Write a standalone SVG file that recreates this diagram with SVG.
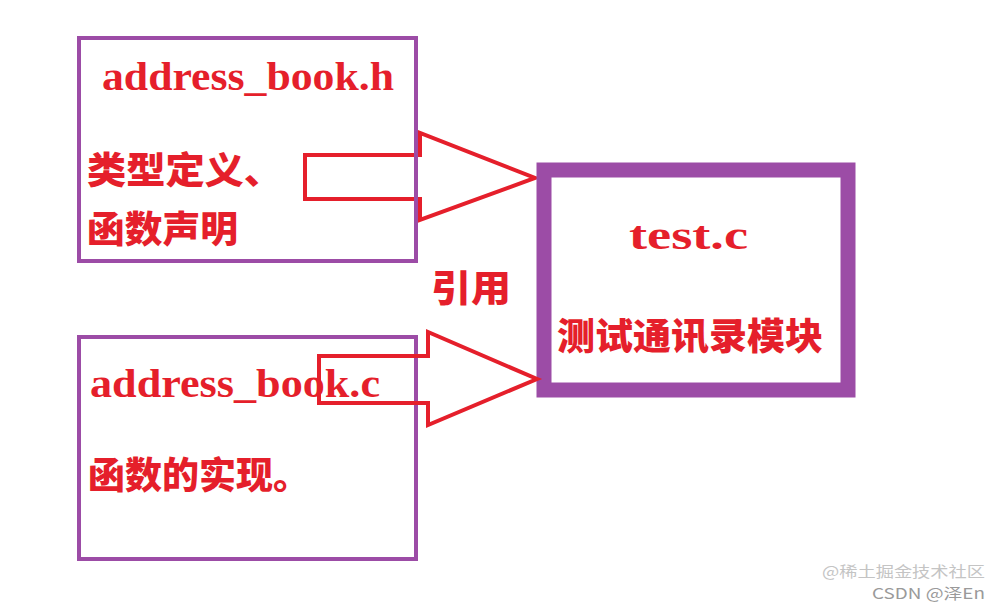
<svg xmlns="http://www.w3.org/2000/svg" width="1001" height="606" viewBox="0 0 1001 606">
<style>
.box{fill:none;stroke:#9c4ca6;stroke-width:4}
.big{fill:none;stroke:#9c4ca6;stroke-width:15}
.arrow{fill:none;stroke:#e51f2b;stroke-width:4;stroke-linejoin:miter}
.en{font-family:"Liberation Serif","DejaVu Serif",serif;font-weight:bold;fill:#e51f2b;font-size:39px}
.cn{font-family:"Noto Sans CJK SC","Noto Sans",sans-serif;font-weight:900;fill:#e51f2b;font-size:37px}
.wm{font-family:"Noto Sans CJK SC","Liberation Sans",sans-serif;font-size:15px}
</style>
<rect width="1001" height="606" fill="#ffffff"/>
<g id="connectors">
<polygon class="arrow" points="305,155 420,155 420,133 535,178 420,220 420,199 305,199"/>
</g>
<g id="node-header">
<rect class="box" x="79" y="38" width="337" height="223"/>
<text class="en" x="102" y="90" textLength="292" lengthAdjust="spacingAndGlyphs">address_book.h</text>
<text class="cn" x="87" y="184" textLength="196" lengthAdjust="spacingAndGlyphs">类型定义、</text>
<text class="cn" x="87" y="243" textLength="151" lengthAdjust="spacingAndGlyphs">函数声明</text>
</g>
<g id="node-source">
<rect class="box" x="79" y="337" width="337" height="222"/>
<text class="en" x="90" y="397" textLength="290" lengthAdjust="spacingAndGlyphs">address_book.c</text>
<text class="cn" x="88" y="489" textLength="222" lengthAdjust="spacingAndGlyphs">函数的实现。</text>
</g>
<g id="node-test">
<rect class="big" x="544" y="170" width="304" height="220"/>
<text class="en" x="629" y="249" textLength="119" lengthAdjust="spacingAndGlyphs">test.c</text>
<text class="cn" x="557" y="350" font-size="38" textLength="266" lengthAdjust="spacingAndGlyphs">测试通讯录模块</text>
</g>
<g id="connectors-2">
<polygon class="arrow" points="319,356 428,356 428,332 537,379 428,425 428,403 319,403"/>
</g>
<g id="label">
<text class="cn" x="431" y="302" font-size="40" textLength="80" lengthAdjust="spacingAndGlyphs">引用</text>
</g>
<g id="watermark">
<text class="wm" x="822" y="577" fill="#c4c4c4" textLength="163" lengthAdjust="spacingAndGlyphs">@稀土掘金技术社区</text>
<text class="wm" x="872" y="599" fill="#9a9a9a" textLength="113" lengthAdjust="spacingAndGlyphs">CSDN @泽En</text>
</g>
</svg>
